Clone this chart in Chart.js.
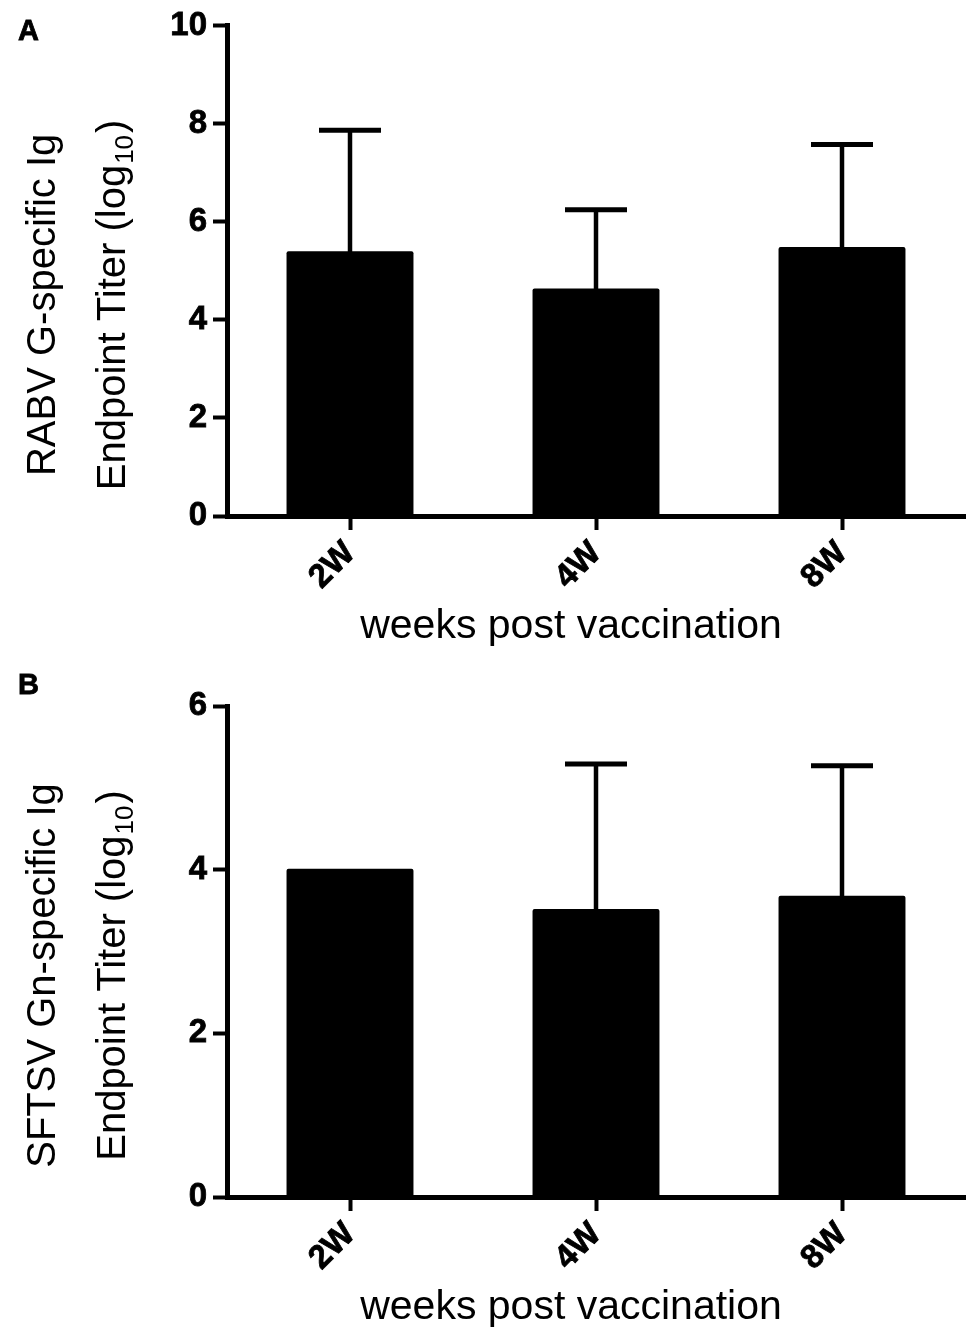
<!DOCTYPE html>
<html><head><meta charset="utf-8">
<script src="https://cdn.jsdelivr.net/npm/chart.js@4.4.1/dist/chart.umd.min.js"></script>
<style>
html,body{margin:0;padding:0;background:#fff;}
#wrap{position:relative;width:975px;height:1337px;overflow:hidden;}
.panel{position:absolute;left:0;width:975px;}
#pA{top:0;height:668px;}
#pB{top:668px;height:669px;}
canvas{display:block;}
</style></head><body>
<div id="wrap">
  <div class="panel" id="pA"><canvas id="cA" width="975" height="668" style="width:975px;height:668px"></canvas></div>
  <div class="panel" id="pB"><canvas id="cB" width="975" height="669" style="width:975px;height:669px"></canvas></div>
</div>
<script>
// ---- data ----
const categories = ['2W', '4W', '8W'];
const rabvMeans = [5.40, 4.64, 5.49];
const rabvSD = [2.47, 1.61, 2.09];
const sftsvMeans = [4.01, 3.52, 3.68];
const sftsvSD = [0, 1.77, 1.59];
const rabvTicks = [0, 2, 4, 6, 8, 10];
const sftsvTicks = [0, 2, 4, 6];
const xTitle = 'weeks post vaccination';
const rabvTitle1 = 'RABV G-specific Ig';
const sftsvTitle1 = 'SFTSV Gn-specific Ig';
const titleLine2 = ['Endpoint Titer (log', '10', ')'];

const FONT = "'Liberation Sans', Arial, Helvetica, sans-serif";
Chart.defaults.font.family = FONT;
Chart.defaults.color = '#000';

const errorBars = {
  id: 'errorBars',
  afterDatasetsDraw(chart, args, o) {
    const ctx = chart.ctx, y = chart.scales.y;
    const ds = chart.data.datasets[0];
    const meta = chart.getDatasetMeta(0);
    ctx.save();
    ctx.strokeStyle = '#000';
    ctx.lineCap = 'butt';
    meta.data.forEach((bar, i) => {
      const sd = ds.errors[i];
      if (!sd) return;
      const top = y.getPixelForValue(ds.data[i] + sd);
      ctx.lineWidth = o.stemWidth;
      ctx.beginPath(); ctx.moveTo(bar.x, bar.y + 2); ctx.lineTo(bar.x, top); ctx.stroke();
      ctx.lineWidth = o.capWidth;
      ctx.beginPath(); ctx.moveTo(bar.x - o.capHalf, top); ctx.lineTo(bar.x + o.capHalf, top); ctx.stroke();
    });
    ctx.restore();
  }
};

const axisTitles = {
  id: 'axisTitles',
  afterDraw(chart, args, o) {
    const ctx = chart.ctx, ca = chart.chartArea;
    ctx.save();
    ctx.fillStyle = '#000';
    ctx.strokeStyle = '#000';
    // panel letter
    ctx.font = 'bold 29px ' + FONT;
    ctx.textAlign = 'left'; ctx.textBaseline = 'alphabetic';
    ctx.lineWidth = 0.8;
    ctx.fillText(o.letter, o.letterX, o.letterY);
    ctx.strokeText(o.letter, o.letterX, o.letterY);
    // x title
    ctx.font = '41px ' + FONT;
    ctx.textAlign = 'center';
    ctx.fillText(o.xTitle, (ca.left + ca.right) / 2 + o.xShift, ca.bottom + o.xBaseOff);
    // y title line 1
    const cy = (ca.top + ca.bottom) / 2 + o.yShift;
    ctx.save();
    ctx.translate(o.y1Base, cy); ctx.rotate(-Math.PI / 2);
    ctx.font = '40px ' + FONT;
    ctx.textAlign = 'center';
    ctx.fillText(o.yTitle1, 0, 0);
    ctx.restore();
    // y title line 2 with subscript
    ctx.save();
    ctx.translate(o.y2Base, cy); ctx.rotate(-Math.PI / 2);
    ctx.textAlign = 'left';
    const big = '40px ' + FONT, small = '26px ' + FONT;
    ctx.font = big; const w1 = ctx.measureText(o.yTitle2[0]).width;
    const w3 = ctx.measureText(o.yTitle2[2]).width;
    ctx.font = small; const w2 = ctx.measureText(o.yTitle2[1]).width;
    let x0 = -(w1 + w2 + w3 + 3) / 2;
    ctx.font = big; ctx.fillText(o.yTitle2[0], x0, 0); x0 += w1 + 1;
    ctx.font = small; ctx.fillText(o.yTitle2[1], x0, 8); x0 += w2 + 2;
    ctx.font = big; ctx.fillText(o.yTitle2[2], x0, 0);
    ctx.restore();
    ctx.restore();
  }
};

function makeChart(id, means, sds, tickVals, yTitle1, layout) {
  return new Chart(document.getElementById(id), {
    type: 'bar',
    data: {
      labels: categories,
      datasets: [{
        data: means,
        errors: sds,
        backgroundColor: '#000',
        borderWidth: 0,
        borderRadius: 2,
        barPercentage: 0.516,
        categoryPercentage: 1
      }]
    },
    plugins: [errorBars, axisTitles],
    options: {
      responsive: false,
      animation: false,
      devicePixelRatio: 1,
      layout: { padding: { top: layout.top, right: 10, left: 0, bottom: 0 } },
      plugins: {
        legend: { display: false },
        tooltip: { enabled: false },
        errorBars: { stemWidth: 4.5, capWidth: 5, capHalf: 31 },
        axisTitles: {
          letter: layout.letter, letterX: 18, letterY: layout.letterY,
          xTitle: xTitle, xShift: -25, xBaseOff: 122,
          yTitle1: yTitle1, yTitle2: titleLine2,
          y1Base: 55, y2Base: 125, yShift: layout.yShift
        }
      },
      scales: {
        x: {
          type: 'category',
          offset: true,
          afterFit: s => { s.height = layout.xHeight; },
          border: { display: true, color: '#000', width: 5 },
          grid: { offset: false, drawOnChartArea: false, drawTicks: true, tickLength: 14, tickWidth: 4, tickColor: '#000' },
          ticks: { color: '#000', font: { size: 33, weight: 'bold' }, maxRotation: 45, minRotation: 45, padding: 4,
                   textStrokeColor: '#000', textStrokeWidth: 0.8 }
        },
        y: {
          min: 0,
          max: tickVals[tickVals.length - 1],
          afterBuildTicks: s => { s.ticks = tickVals.map(v => ({ value: v })); },
          afterFit: s => { s.width = 227; },
          border: { display: true, color: '#000', width: 5 },
          grid: { drawOnChartArea: false, drawTicks: true, tickLength: 14, tickWidth: 4, tickColor: '#000' },
          ticks: { color: '#000', font: { size: 33, weight: 'bold' }, padding: 6,
                   textStrokeColor: '#000', textStrokeWidth: 0.8 }
        }
      }
    }
  });
}

makeChart('cA', rabvMeans, rabvSD, rabvTicks, rabvTitle1,
  { top: 23, xHeight: 152, letter: 'A', letterY: 40, yShift: 34 });
makeChart('cB', sftsvMeans, sftsvSD, sftsvTicks, sftsvTitle1,
  { top: 38, xHeight: 140, letter: 'B', letterY: 26, yShift: 24 });
</script>
</body></html>
